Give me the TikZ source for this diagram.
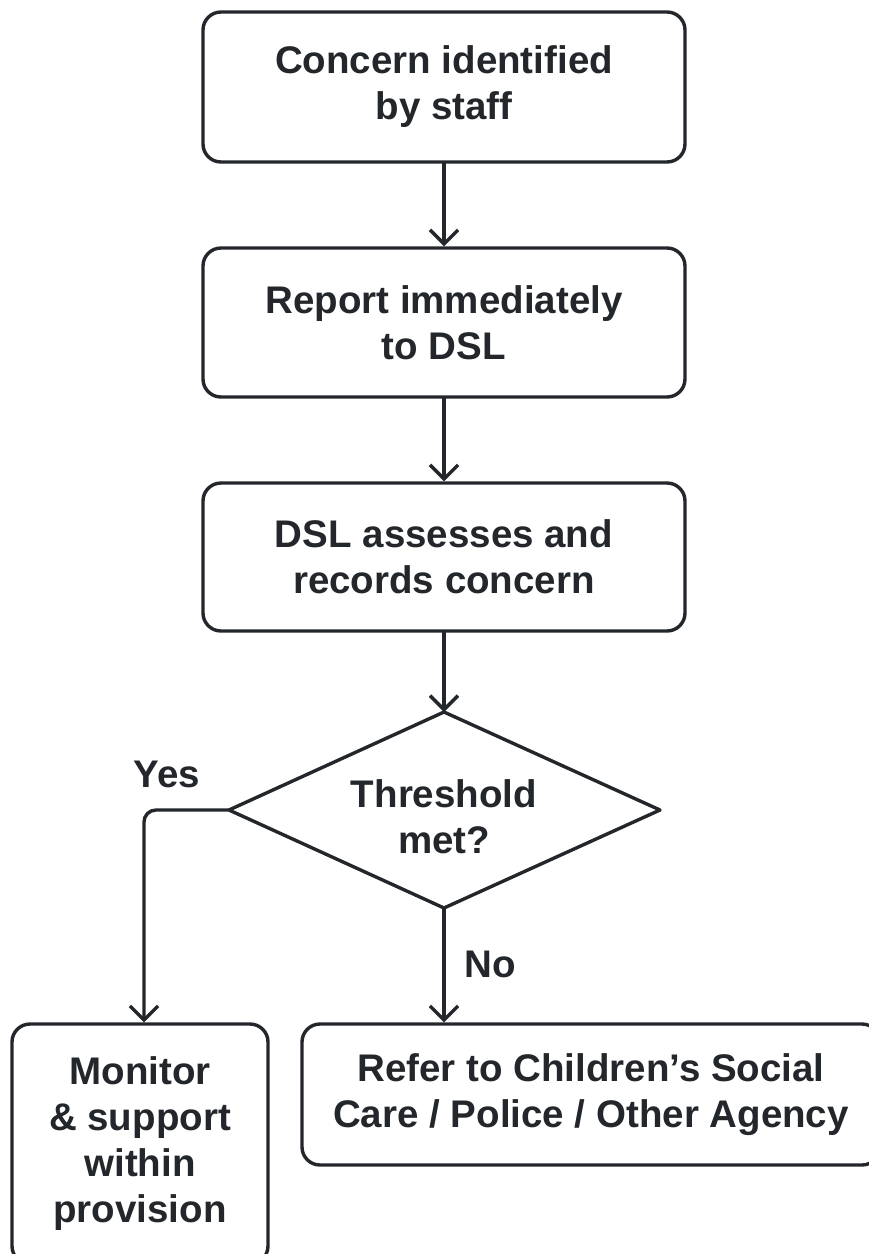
\documentclass[tikz,border=0pt]{standalone}
\usepackage{fontspec}
\setmainfont{Liberation Sans}
\usetikzlibrary{arrows.meta}
\definecolor{ink}{HTML}{23272B}
\begin{document}
\begin{tikzpicture}[x=1pt,y=-1pt,
  txt/.style={font=\fontsize{38.5}{46}\selectfont\bfseries, text=ink},
  box/.style={txt, draw=ink, line width=3.4pt, rounded corners=18pt, align=center, inner sep=0pt},
  shp/.style={draw=ink, line width=3.4pt, line join=round},
  arr/.style={draw=ink, line width=3.4pt, line cap=round, line join=round,
    -{Straight Barb[length=14pt,width=28pt,line width=3.4pt]}}]
\useasboundingbox (0,0) rectangle (869,1254);
\clip (0,0) rectangle (869,1254);
\node[box, minimum width=482pt, minimum height=150pt] (b1) at (444,87) {Concern identified\\by staff};
\node[box, minimum width=482pt, minimum height=149pt] (b2) at (444,322.5) {Report immediately\\to DSL};
\node[box, minimum width=482pt, minimum height=148pt] (b3) at (444,557) {DSL assesses and\\records concern};
% decision diamond
\coordinate (dn) at (444,712);
\coordinate (dw) at (229,810);
\coordinate (de) at (660,810);
\coordinate (ds) at (444,908);
\draw[shp] (dn) -- (de) -- (ds) -- (dw) -- cycle;
\node[txt, align=center, inner sep=0pt] (d) at (444,817) {Threshold\\met?};
\node[box, minimum width=256pt, minimum height=240pt] (b4) at (140,1144) {Monitor\\\&~support\\within\\provision};
\node[box, minimum width=578pt, minimum height=141pt] (b5) at (591,1094.5) {Refer to Children’s Social\\Care / Police / Other Agency};
\node[txt] (yes) at (167,774) {Yes};
\node[txt] (no) at (490,964) {No};
\draw[arr] (b1) -- (b2);
\draw[arr] (b2) -- (b3);
\draw[arr] (b3.south) -- (dn);
\draw[arr, rounded corners=12pt] (dw) -| ([xshift=4pt]b4.north);
\draw[arr] (ds) -- (ds |- b5.north);
\end{tikzpicture}
\end{document}
